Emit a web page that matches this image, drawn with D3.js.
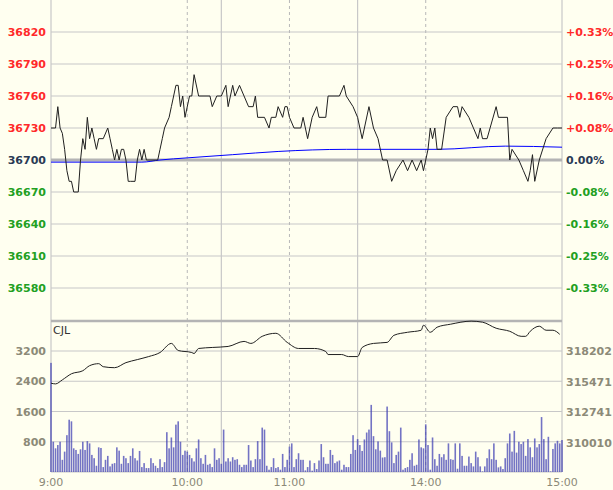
<!DOCTYPE html>
<html><head><meta charset="utf-8">
<script src="https://cdn.jsdelivr.net/npm/d3@7"></script>
<style>body{margin:0;background:#fffff0;}svg{display:block;}</style>
</head><body>
<script>
// ---- data ----
const prevClose = 36700;
const priceTicks = [36820,36790,36760,36730,36700,36670,36640,36610,36580];
const timeLabels = ["9:00","10:00","11:00","14:00","15:00"];
const timeLabelMinutes = [0,60,105,165,225];
const dashedMinutes = [60,105,165];
const solidMinutes = [75,135];
const priceMinutes = [0,2,3,4,5,6,7,8,9,10,12,13,14,15,16,17,18,19,20,21,23,25,26,27,28,29,30,31,32,33,34,35,37,38,39,40,41,42,47,48,49,50,52,53,55,56,57,58,59,61,62,63,65,70,71,73,75,77,78,80,81,83,85,87,89,90,91,94,96,97,99,100,102,103,104,105,107,110,111,113,115,117,118,121,122,127,129,130,133,135,137,138,140,142,144,146,148,150,152,155,157,159,161,163,164,166,167,168,169,170,172,174,177,179,180,181,184,186,188,189,190,192,196,197,201,202,203,206,208,210,211,212,213,215,218,221,223,225];
const prices = [36730,36730,36750,36730,36725,36710,36690,36680,36680,36670,36670,36700,36720,36710,36740,36720,36730,36720,36710,36720,36720,36730,36720,36710,36700,36710,36700,36710,36710,36700,36680,36680,36680,36700,36710,36700,36710,36700,36700,36710,36720,36730,36740,36750,36770,36770,36750,36760,36740,36760,36760,36780,36760,36760,36750,36760,36760,36770,36750,36770,36760,36770,36760,36750,36750,36760,36740,36740,36730,36740,36740,36750,36740,36750,36750,36740,36730,36730,36740,36720,36740,36750,36740,36740,36760,36760,36770,36760,36750,36740,36720,36730,36750,36730,36720,36700,36700,36680,36690,36700,36690,36700,36690,36700,36690,36710,36730,36720,36730,36710,36710,36740,36750,36750,36740,36750,36740,36730,36720,36730,36720,36720,36750,36740,36740,36700,36710,36700,36690,36680,36690,36705,36680,36700,36720,36730,36730,36730];
const avgMinutes = [0,40,48,60,80,100,130,170,200,225];
const avgPrices = [36698,36698,36700,36702,36705,36708,36710,36710,36713,36712];
const volTicks = [3200,2400,1600,800];
const oiTicks = [318202,315471,312741,310010];
const volumes = [2886,800,626,713,800,322,539,974,1383,1340,626,583,478,600,800,583,817,757,452,365,165,652,635,130,322,426,148,217,235,652,565,217,426,365,235,426,626,365,304,557,130,235,104,104,365,235,165,104,339,130,261,1053,626,913,652,1253,1340,800,452,565,539,452,365,278,626,861,365,217,452,191,217,130,626,322,365,217,1122,278,365,278,391,322,339,191,130,191,191,713,304,130,339,817,339,1174,1122,165,61,130,365,104,130,61,478,130,322,670,757,130,339,496,322,322,43,130,
304,35,235,78,304,739,391,217,217,583,452,235,278,304,61,191,130,130,478,974,583,870,713,557,861,1044,1122,1775,948,600,809,565,383,391,1731,1079,783,235,452,539,1174,61,104,130,322,496,165,191,861,652,626,1261,713,61,913,339,165,478,391,470,322,757,339,322,757,87,757,426,165,165,409,235,148,539,391,148,17,148,365,600,339,757,322,122,148,78,365,757,1018,539,1088,513,800,739,800,426,870,652,391,887,652,739,1453,870,339,931,17,609,757,826,757,845];
const oiMinutes = [0,2,5,9,14,17,21,23,28,33,38,43,48,53,56,62,63,65,71,78,85,88,93,99,104,109,116,121,122,128,131,135,137,142,148,151,157,163,164,167,170,176,185,190,196,202,207,209,211,215,218,221,224];
const oiValues = [315336,315273,315633,316174,316444,316895,317075,316805,316715,317166,317436,317706,318067,318878,318247,318067,317977,318427,318517,318608,319058,318878,319509,319779,318968,318427,318427,318157,317887,317887,317706,317706,318517,318878,318968,319599,319869,320050,320500,319869,320320,320590,320861,320770,320230,319959,319509,319509,319959,320410,320050,320050,319689];

// ---- drawing ----
const W=613,H=490,L=51,R=562;
const svg=d3.select("body").append("svg").attr("width",W).attr("height",H);
svg.append("rect").attr("width",W).attr("height",H).attr("fill","#fffff0");
const x=d3.scaleLinear().domain([0,225]).range([L,R]);
const y=d3.scaleLinear().domain([36550,36850]).range([320,0]);
const yv=d3.scaleLinear().domain([0,3200]).range([472,351]);
const yo=d3.scaleLinear().domain([310010,318202]).range([443,351]);
const grid="#c8c8c8";
// horizontal grid
priceTicks.forEach(p=>{ if(p!==prevClose) svg.append("line").attr("x1",L).attr("x2",R).attr("y1",y(p)).attr("y2",y(p)).attr("stroke",grid).attr("stroke-width",1.2);});
volTicks.forEach(v=>svg.append("line").attr("x1",L).attr("x2",R).attr("y1",yv(v)).attr("y2",yv(v)).attr("stroke",grid).attr("stroke-width",1.2));
// vertical grid
dashedMinutes.forEach(m=>svg.append("line").attr("x1",x(m)).attr("x2",x(m)).attr("y1",0).attr("y2",472).attr("stroke","#b8b8b8").attr("stroke-dasharray","3,3"));
solidMinutes.concat([0,225]).forEach(m=>svg.append("line").attr("x1",x(m)).attr("x2",x(m)).attr("y1",0).attr("y2",472).attr("stroke",grid).attr("stroke-width",1.2));
svg.append("line").attr("x1",L).attr("x2",R).attr("y1",472).attr("y2",472).attr("stroke",grid);
// separator
svg.append("line").attr("x1",L).attr("x2",R).attr("y1",321).attr("y2",321).attr("stroke","#b4b4b4").attr("stroke-width",2.5);
// prev close line
svg.append("line").attr("x1",L).attr("x2",R).attr("y1",y(prevClose)).attr("y2",y(prevClose)).attr("stroke","#b4b4b4").attr("stroke-width",3);
// avg line
svg.append("path").datum(avgMinutes.map((m,i)=>[m,avgPrices[i]])).attr("fill","none").attr("stroke","#0000ff").attr("stroke-width",1)
 .attr("d",d3.line().x(d=>x(d[0])).y(d=>y(d[1])).curve(d3.curveMonotoneX));
// price line
svg.append("path").datum(priceMinutes.map((m,i)=>[m,prices[i]])).attr("fill","none").attr("stroke","#202020").attr("stroke-width",1)
 .attr("d",d3.line().x(d=>x(d[0])).y(d=>y(d[1])));
// volume bars
svg.append("g").selectAll("rect").data(volumes).join("rect")
 .attr("x",(d,i)=>x(i)-0.8).attr("width",1.6).attr("y",d=>yv(d)).attr("height",d=>472-yv(d))
 .attr("fill","#3838b0").attr("fill-opacity",0.7);
// OI line
svg.append("path").datum(oiMinutes.map((m,i)=>[m,oiValues[i]])).attr("fill","none").attr("stroke","#202020").attr("stroke-width",1)
 .attr("d",d3.line().x(d=>x(d[0])).y(d=>yo(d[1])).curve(d3.curveMonotoneX));
// labels
const font="'DejaVu Sans', Verdana, sans-serif";
const col=p=>p>prevClose?"#ff2a2a":(p<prevClose?"#22a022":"#2a3a55");
priceTicks.forEach(p=>{
 svg.append("text").attr("x",46).attr("y",y(p)+4).attr("text-anchor","end").attr("font-family",font).attr("font-size",11).attr("font-weight","bold").attr("fill",col(p)).text(p);
 const pct=(p-prevClose)/prevClose*100;
 svg.append("text").attr("x",566).attr("y",y(p)+4).attr("font-family",font).attr("font-size",11).attr("font-weight","bold").attr("fill",col(p)).text((pct>0?"+":"")+pct.toFixed(2)+"%");
});
const gcol="#8c8a78";
volTicks.forEach(v=>svg.append("text").attr("x",46).attr("y",yv(v)+4).attr("text-anchor","end").attr("font-family",font).attr("font-size",11).attr("font-weight","bold").attr("fill",gcol).text(v));
oiTicks.forEach(v=>svg.append("text").attr("x",566).attr("y",yo(v)+4).attr("font-family",font).attr("font-size",11).attr("font-weight","bold").attr("fill",gcol).text(v));
timeLabels.forEach((t,i)=>svg.append("text").attr("x",x(timeLabelMinutes[i])).attr("y",486).attr("text-anchor","middle").attr("font-family",font).attr("font-size",11).attr("fill",gcol).text(t));
svg.append("text").attr("x",53).attr("y",334).attr("font-family",font).attr("font-size",11).attr("fill","#333").text("CJL");
</script>
</body></html>
